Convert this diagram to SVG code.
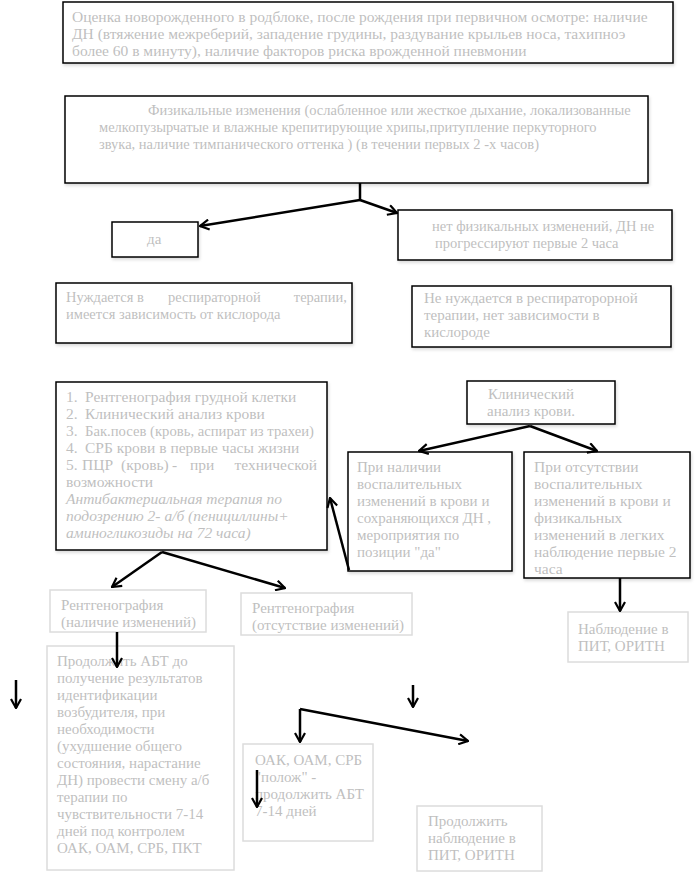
<svg xmlns="http://www.w3.org/2000/svg" width="697" height="876" viewBox="0 0 697 876">
<style>
.b{fill:#fff;stroke:#000;stroke-width:1.5;filter:url(#sh)}
.g{fill:#fff;stroke:#dcdcdc;stroke-width:1.5}
text{font-family:"Liberation Serif","Times New Roman",serif;font-size:15px;fill:#bfbfbf}
.l{font-size:15.5px}
.s{font-size:14.5px}
.i{font-style:italic}
.c{fill:none;stroke:#000;stroke-width:2.5}
</style>
<defs>
<filter id="sh" x="-5%" y="-5%" width="110%" height="120%">
<feDropShadow dx="1" dy="2" stdDeviation="1.5" flood-color="#000" flood-opacity="0.15"/>
</filter>
<marker id="a" viewBox="0 0 12 12" refX="11" refY="6" markerWidth="12" markerHeight="12" markerUnits="userSpaceOnUse" orient="auto">
<polyline points="2,1 11,6 2,11" fill="none" stroke="#000" stroke-width="2.2"/>
</marker>
</defs>
<rect width="697" height="876" fill="#fff"/>

<g id="n1">
<rect class="b" x="63" y="2" width="610" height="61"/>
<text class="l" x="72" y="22">Оценка новорожденного в родблоке, после рождения при первичном осмотре: наличие</text>
<text class="l" x="72" y="39">ДН (втяжение межреберий, западение грудины, раздувание крыльев носа, тахипноэ</text>
<text class="l" x="72" y="56">более 60 в минуту), наличие факторов  риска врожденной пневмонии</text>
</g>

<g id="n2">
<rect class="b" x="65" y="96" width="583" height="87"/>
<text class="s" x="148" y="115">Физикальные изменения (ослабленное или жесткое дыхание, локализованные</text>
<text class="s" x="99" y="132">мелкопузырчатые и влажные крепитирующие хрипы,притупление перкуторного</text>
<text class="s" x="99" y="149">звука, наличие тимпанического оттенка ) (в течении первых 2 -х часов)</text>
</g>

<g id="n3">
<rect class="b" x="112" y="222" width="86" height="35"/>
<text x="147" y="244">да</text>
</g>

<g id="n4">
<rect class="b" x="398" y="210" width="274" height="50"/>
<text class="s" x="432" y="231">нет физикальных изменений, ДН не</text>
<text class="s" x="435" y="248">прогрессируют первые 2 часа</text>
</g>

<g id="n5">
<rect class="b" x="56" y="283" width="296" height="60"/>
<text class="s" x="66" y="302">Нуждается</text>
<text class="s" x="137" y="302">в</text>
<text class="s" x="168" y="302">респираторной</text>
<text class="s" x="347" y="302" text-anchor="end">терапии,</text>
<text class="s" x="66" y="319">имеется зависимость от кислорода</text>
</g>

<g id="n6">
<rect class="b" x="412" y="286" width="259" height="61"/>
<text x="424" y="303">Не нуждается в респираторорной</text>
<text x="424" y="320">терапии, нет зависимости в</text>
<text x="424" y="337">кислороде</text>
</g>

<g id="n7">
<rect class="b" x="56" y="382" width="271" height="168"/>
<text class="l" x="66" y="402">1.</text><text class="l" x="85" y="402">Рентгенография грудной клетки</text>
<text class="l" x="66" y="419">2.</text><text class="l" x="85" y="419">Клинический анализ крови</text>
<text class="l" x="66" y="436">3.</text><text class="l" x="85" y="436" textLength="229" lengthAdjust="spacingAndGlyphs">Бак.посев (кровь, аспират из трахеи)</text>
<text class="l" x="66" y="453">4.</text><text class="l" x="85" y="453">СРБ крови в первые часы жизни</text>
<text class="l" x="66" y="470">5.</text>
<text class="l" x="82" y="470">ПЦР</text>
<text class="l" x="121" y="470">(кровь)</text>
<text class="l" x="172" y="470">-</text>
<text class="l" x="190" y="470">при</text>
<text class="l" x="317" y="470" text-anchor="end">технической</text>
<text class="l" x="66" y="487">возможности</text>
<text class="l i" x="66" y="504">Антибактериальная терапия по</text>
<text class="l i" x="66" y="521">подозрению 2- а/б (пенициллины+</text>
<text class="l i" x="66" y="538">аминогликозиды на 72 часа)</text>
</g>

<g id="n8">
<rect class="b" x="467" y="381" width="148" height="43"/>
<text x="531" y="399" text-anchor="middle">Клинический</text>
<text x="531" y="416" text-anchor="middle">анализ крови.</text>
</g>

<g id="n9">
<rect class="b" x="348" y="452" width="164" height="119"/>
<text x="357" y="472">При наличии</text>
<text x="357" y="489">воспалительных</text>
<text x="357" y="506">изменений в крови и</text>
<text x="357" y="523">сохраняющихся ДН ,</text>
<text x="357" y="540">мероприятия по</text>
<text x="357" y="557">позиции "да"</text>
</g>

<g id="n10">
<rect class="b" x="524" y="452" width="166" height="126"/>
<text class="l" x="534" y="472">При отсутствии</text>
<text class="l" x="534" y="489">воспалительных</text>
<text class="l" x="534" y="506">изменений в крови и</text>
<text class="l" x="534" y="523">физикальных</text>
<text class="l" x="534" y="540">изменений в легких</text>
<text class="l" x="534" y="557">наблюдение  первые 2</text>
<text class="l" x="534" y="574">часа</text>
</g>

<g id="n11">
<rect class="g" x="568" y="612" width="120" height="50"/>
<text x="578" y="634">Наблюдение в</text>
<text x="578" y="651">ПИТ, ОРИТН</text>
</g>

<g id="n12">
<rect class="g" x="50" y="590" width="156" height="42"/>
<text x="61" y="610">Рентгенография</text>
<text x="61" y="627">(наличие изменений)</text>
</g>

<g id="n13">
<rect class="g" x="241" y="593" width="171" height="42"/>
<text x="252" y="613">Рентгенография</text>
<text x="252" y="630">(отсутствие изменений)</text>
</g>

<g id="n14">
<rect class="g" x="47" y="646" width="187" height="224"/>
<text x="57" y="666">Продолжить АБТ  до</text>
<text x="57" y="683">получение результатов</text>
<text x="57" y="700">идентификации</text>
<text x="57" y="717">возбудителя,  при</text>
<text x="57" y="734">необходимости</text>
<text x="57" y="751">(ухудшение общего</text>
<text x="57" y="768">состояния, нарастание</text>
<text x="57" y="785">ДН) провести смену а/б</text>
<text x="57" y="802">терапии по</text>
<text x="57" y="819">чувствительности 7-14</text>
<text x="57" y="836">дней под контролем</text>
<text x="57" y="853">ОАК, ОАМ, СРБ, ПКТ</text>
</g>

<g id="n15">
<rect class="g" x="243" y="744" width="130" height="97"/>
<text x="255" y="765">ОАК, ОАМ, СРБ</text>
<text x="255" y="782">"полож" -</text>
<text x="255" y="799">продолжить АБТ</text>
<text x="255" y="816">7-14 дней</text>
</g>

<g id="n16">
<rect class="g" x="417" y="806" width="125" height="65"/>
<text x="428" y="826">Продолжить</text>
<text x="428" y="843">наблюдение в</text>
<text x="428" y="860">ПИТ, ОРИТН</text>
</g>

<g id="connectors">
<polyline class="c" points="360,183 360,200"/>
<line class="c" x1="360" y1="200" x2="200" y2="226" marker-end="url(#a)"/>
<line class="c" x1="360" y1="200" x2="397" y2="213" marker-end="url(#a)"/>
<line class="c" x1="530" y1="426" x2="419" y2="451" marker-end="url(#a)"/>
<line class="c" x1="530" y1="426" x2="597" y2="451" marker-end="url(#a)"/>
<line class="c" x1="349" y1="570" x2="330" y2="498" marker-end="url(#a)"/>
<line class="c" x1="620" y1="578" x2="620" y2="611" marker-end="url(#a)"/>
<line class="c" x1="162" y1="552" x2="112" y2="587" marker-end="url(#a)"/>
<line class="c" x1="162" y1="552" x2="285" y2="588" marker-end="url(#a)"/>
<line class="c" x1="117" y1="632" x2="117" y2="667" marker-end="url(#a)"/>
<line class="c" x1="16" y1="680" x2="16" y2="708" marker-end="url(#a)"/>
<line class="c" x1="413" y1="685" x2="413" y2="707" marker-end="url(#a)"/>
<polyline class="c" points="300,709 468,741" marker-end="url(#a)"/>
<line class="c" x1="300" y1="709" x2="300" y2="742" marker-end="url(#a)"/>
<line class="c" x1="257" y1="770" x2="257" y2="807" marker-end="url(#a)"/>
</g>
</svg>
